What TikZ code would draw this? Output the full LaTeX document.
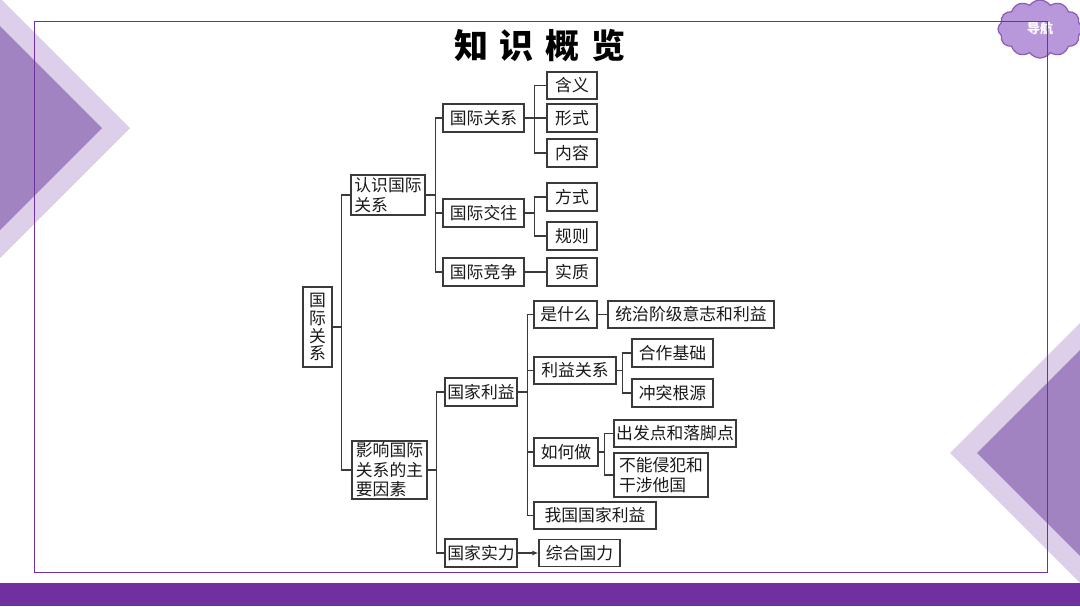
\documentclass[tikz,border=0pt]{standalone}
\usepackage{fontspec}
\newfontfamily\cjk{Noto Sans CJK SC}
\usetikzlibrary{shapes.symbols,arrows.meta}
\definecolor{ppl}{HTML}{7030A0}
\definecolor{lightp}{HTML}{DDCEE9}
\definecolor{darkp}{HTML}{A283C2}
\definecolor{cloudp}{HTML}{B898DA}
\definecolor{ink}{HTML}{3A3A3A}
\tikzset{
  bx/.style={draw=ink,line width=1.3pt,inner sep=0pt,font=\cjk\fontsize{16.8}{19.5}\selectfont,text=black!90},
  conn/.style={draw=ink,line width=1.3pt},
}
\begin{document}
\begin{tikzpicture}[x=1pt,y=-1pt]
\useasboundingbox (0,0) rectangle (1080,606);
\fill[white] (0,0) rectangle (1080,606);
% decorations
\fill[lightp] (0,-2) -- (130,128) -- (0,258) -- cycle;
\fill[darkp] (0,26) -- (102,128) -- (0,230) -- cycle;
\fill[lightp] (1080,323) -- (950,453) -- (1080,583) -- cycle;
\fill[darkp] (1080,350) -- (977,453) -- (1080,556) -- cycle;
\node[cloud,cloud puffs=12,cloud puff arc=110,aspect=1.5,draw=ppl!80,line width=1.2pt,fill=cloudp,minimum width=84pt,minimum height=58pt,inner sep=0pt,text=white,font=\cjk\bfseries\fontsize{13}{15}\selectfont] (nav) at (1040,29) {导航};
\draw[ppl,line width=1pt] (34,21) rectangle (1047.5,572);
\fill[ppl] (0,583) rectangle (1080,606);
% title
\node[font=\cjk\bfseries\fontsize{34}{37}\selectfont,text=black] (title) at (540,46) {知\hspace{12pt}识\hspace{12pt}概\hspace{12pt}览};
% boxes
\node[bx,minimum width=29pt,minimum height=80pt,align=center,font=\cjk\fontsize{16.8}{17.8}\selectfont] (root) at (317.5,327) {国\\际\\关\\系};
\node[bx,minimum width=74pt,minimum height=40pt,align=left] (ren) at (388,195) {认识国际\\关系\hphantom{国际}};
\node[bx,minimum width=81pt,minimum height=28pt] (gjgx) at (483.5,118) {国际关系};
\node[bx,minimum width=50pt,minimum height=27pt] (hanyi) at (572,85.5) {含义};
\node[bx,minimum width=50pt,minimum height=28pt] (xingshi) at (572,118) {形式};
\node[bx,minimum width=50pt,minimum height=28pt] (neirong) at (572,153) {内容};
\node[bx,minimum width=81pt,minimum height=28pt] (jiaowang) at (483.5,213) {国际交往};
\node[bx,minimum width=50pt,minimum height=28pt] (fangshi) at (572,197) {方式};
\node[bx,minimum width=50pt,minimum height=28pt] (guize) at (572,236) {规则};
\node[bx,minimum width=81pt,minimum height=28pt] (jingzheng) at (483.5,272) {国际竞争};
\node[bx,minimum width=50pt,minimum height=28pt] (shizhi) at (572,272) {实质};
\node[bx,minimum width=75pt,minimum height=58pt,align=left] (ying) at (389.5,470) {影响国际\\关系的主\\要因素\hphantom{国}};
\node[bx,minimum width=72pt,minimum height=28pt] (gjly) at (481,392) {国家利益};
\node[bx,minimum width=63pt,minimum height=27pt] (shishen) at (565.5,314.5) {是什么};
\node[bx,minimum width=166pt,minimum height=27pt] (tongzhi) at (691,314.5) {统治阶级意志和利益};
\node[bx,minimum width=82pt,minimum height=27pt] (lygx) at (575,370.5) {利益关系};
\node[bx,minimum width=81pt,minimum height=28pt] (hezuo) at (672.5,353) {合作基础};
\node[bx,minimum width=81pt,minimum height=28pt] (chongtu) at (672.5,393) {冲突根源};
\node[bx,minimum width=64pt,minimum height=28pt] (ruhe) at (566,452) {如何做};
\node[bx,minimum width=122pt,minimum height=27pt] (chufa) at (675,433.5) {出发点和落脚点};
\node[bx,minimum width=94pt,minimum height=44pt,align=left] (buneng) at (661,475) {不能侵犯和\\干涉他国\hphantom{国}};
\node[bx,minimum width=122pt,minimum height=27pt] (woguo) at (595,515.5) {我国国家利益};
\node[bx,minimum width=72pt,minimum height=28pt] (gjsl) at (481,553) {国家实力};
\node[bx,minimum width=81pt,minimum height=27pt] (zonghe) at (579.5,553) {综合国力};
% connectors
\draw[conn] (root.east) -- ++(9,0) coordinate (b0);
\draw[conn] (b0) |- (ren.west);
\draw[conn] (b0) |- (ying.west);
\draw[conn] (ren.east) -- ++(10,0) coordinate (b1);
\draw[conn] (b1) |- (gjgx.west);
\draw[conn] (b1) |- (jiaowang.west);
\draw[conn] (b1) |- (jingzheng.west);
\draw[conn] (gjgx.east) -- ++(10,0) coordinate (b2);
\draw[conn] (b2) |- (hanyi.west);
\draw[conn] (b2) |- (neirong.west);
\draw[conn] (gjgx.east) -- (xingshi.west);
\draw[conn] (jiaowang.east) -- ++(10,0) coordinate (b3);
\draw[conn] (b3) |- (fangshi.west);
\draw[conn] (b3) |- (guize.west);
\draw[conn] (jingzheng.east) -- (shizhi.west);
\draw[conn] (ying.east) -- ++(9,0) coordinate (b4);
\draw[conn] (b4) |- (gjly.west);
\draw[conn] (b4) |- (gjsl.west);
\draw[conn] (gjly.east) -- ++(10,0) coordinate (b5);
\draw[conn] (b5) |- (shishen.west);
\draw[conn] (b5) |- (lygx.west);
\draw[conn] (b5) |- (ruhe.west);
\draw[conn] (b5) |- (woguo.west);
\draw[conn] (shishen.east) -- (tongzhi.west);
\draw[conn] (lygx.east) -- ++(6,0) coordinate (b6);
\draw[conn] (b6) |- (hezuo.west);
\draw[conn] (b6) |- (chongtu.west);
\draw[conn] (ruhe.east) -- ++(6,0) coordinate (b7);
\draw[conn] (b7) |- (chufa.west);
\draw[conn] (b7) |- (buneng.west);
\draw[conn,-{Latex[length=6pt,width=5pt]}] (gjsl.east) -- (zonghe.west);
\end{tikzpicture}
\end{document}
